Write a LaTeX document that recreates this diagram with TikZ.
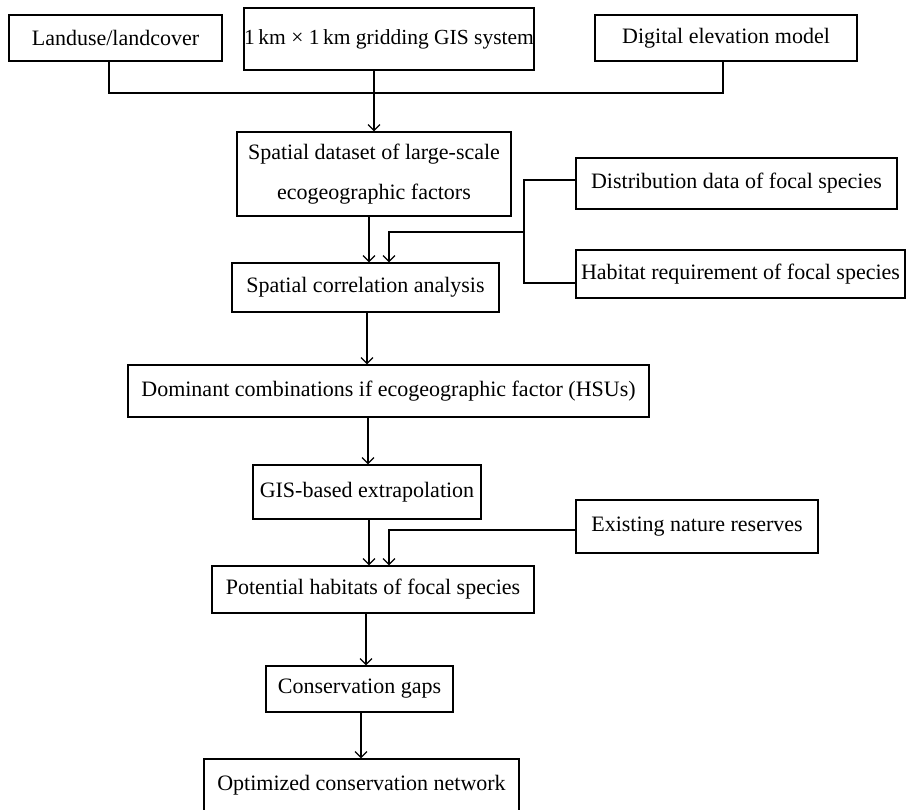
\documentclass[tikz,border=0pt]{standalone}
\usepackage{fontspec}
\setmainfont{Liberation Serif}
\usetikzlibrary{arrows.meta}
\begin{document}
\begin{tikzpicture}[x=1pt,y=-1pt,
  box/.style={draw, line width=1.2pt, rectangle, inner sep=0pt, align=center,
    font=\fontsize{22}{40}\selectfont},
  conn/.style={line width=1.2pt},
  arr/.style={line width=1.2pt, -{Straight Barb[length=6pt,width=12pt]}}]
\useasboundingbox (0,0) rectangle (906,810);
\clip (0,0) rectangle (906,810);
% boxes
\node[box, minimum width=213pt, minimum height=46pt] (land) at (115.5,38) {Landuse/landcover};
\node[box, minimum width=288pt, minimum height=62pt, font=\fontsize{21.5}{40}\selectfont] (gis) at (389,39) {1\,km × 1\,km gridding GIS system};
\node[box, minimum width=262pt, minimum height=46pt] (dem) at (726,38) {Digital elevation model};
\node[box, minimum width=274pt, minimum height=84pt] (ds) at (374,174) {Spatial dataset of large-scale\\ecogeographic factors};
\node[box, minimum width=267pt, minimum height=49pt] (corr) at (365.5,287.5) {Spatial correlation analysis};
\node[box, minimum width=321pt, minimum height=51pt] (dist) at (736.5,183.5) {Distribution data of focal species};
\node[box, minimum width=329pt, minimum height=48pt] (hab) at (740.5,274) {Habitat requirement of focal species};
\node[box, minimum width=521pt, minimum height=52pt] (dom) at (388.5,391) {Dominant combinations if ecogeographic factor (HSUs)};
\node[box, minimum width=228pt, minimum height=54pt] (gisb) at (367,492) {GIS-based extrapolation};
\node[box, minimum width=242pt, minimum height=53pt] (ex) at (697,526.5) {Existing nature reserves};
\node[box, minimum width=322pt, minimum height=47pt] (pot) at (373,589.5) {Potential habitats of focal species};
\node[box, minimum width=187pt, minimum height=46pt] (gaps) at (359.5,689) {Conservation gaps};
\node[box, minimum width=315pt, minimum height=52pt] (opt) at (361.5,785) {Optimized conservation network};
% junction coordinates
\coordinate (jl) at (109,93);
\coordinate (jm) at (374,93);
\coordinate (jr) at (723,93);
\coordinate (dy) at (524,180);
\coordinate (my) at (524,232);
\coordinate (hy) at (524,283);
\coordinate (ey) at (576,530);
\coordinate (xa) at (369,0);
\coordinate (xb) at (389,0);
\coordinate (xc) at (367,0);
\coordinate (xd) at (368,0);
\coordinate (xe) at (366,0);
\coordinate (xf) at (361,0);
% connectors
\draw[conn] (land.south -| jl) -- (jl) -- (jr) -- (dem.south -| jr);
\draw[arr] (gis.south -| jm) -- (ds.north -| jm);
\draw[arr] (ds.south -| xa) -- (corr.north -| xa);
\draw[conn] (dist.west |- dy) -- (dy) -- (hy) -- (hab.west |- hy);
\draw[arr] (my) -- (my -| xb) -- (corr.north -| xb);
\draw[arr] (corr.south -| xc) -- (dom.north -| xc);
\draw[arr] (dom.south -| xd) -- (gisb.north -| xd);
\draw[arr] (gisb.south -| xa) -- (pot.north -| xa);
\draw[arr] (ex.west |- ey) -- (ey -| xb) -- (pot.north -| xb);
\draw[arr] (pot.south -| xe) -- (gaps.north -| xe);
\draw[arr] (gaps.south -| xf) -- (opt.north -| xf);
\end{tikzpicture}
\end{document}
